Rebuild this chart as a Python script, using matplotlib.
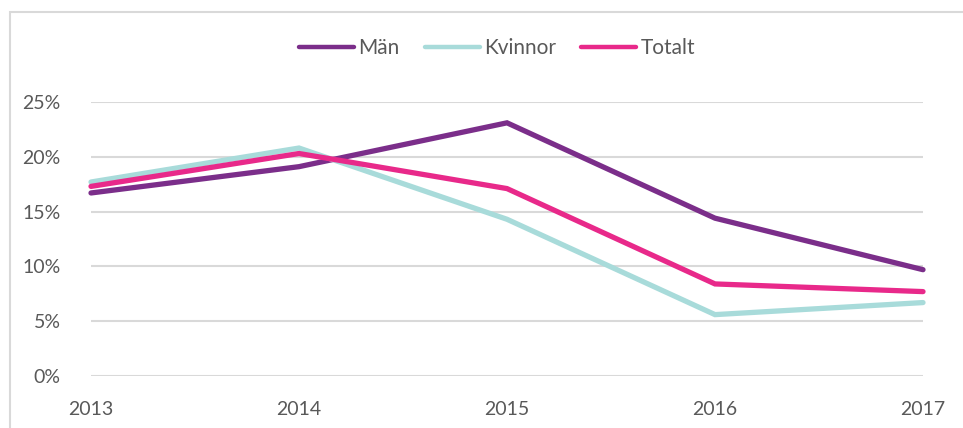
import numpy as np
import matplotlib.pyplot as plt
from matplotlib.patches import Rectangle
from matplotlib.ticker import PercentFormatter

plt.rcParams['font.family'] = ['Lato', 'DejaVu Sans']

years = [2013, 2014, 2015, 2016, 2017]
man = [0.167, 0.191, 0.231, 0.144, 0.097]
kvinnor = [0.177, 0.208, 0.143, 0.056, 0.067]
totalt = [0.173, 0.203, 0.171, 0.084, 0.077]
labels = ['Män', 'Kvinnor', 'Totalt']
colors = ['#7B2E8A', '#A8DBDA', '#E8298A']

fig = plt.figure(figsize=(9.63, 4.28), dpi=100)
ax = fig.add_axes([91/963, 1-376/428, (923-91)/963, (376-102)/428])

# outer chart frame (cut off at right and bottom)
fig.patches.append(Rectangle((10/963, -0.1), 1.2, 1.1 - 12/428, transform=fig.transFigure,
                             fill=False, edgecolor='#D9D9D9', lw=1.5))

for vals, lab, c in zip([man, kvinnor, totalt], labels, colors):
    ax.plot(years, vals, color=c, lw=3.8, label=lab, solid_capstyle='round',
            solid_joinstyle='miter', clip_on=False, zorder=3)

ax.set_xlim(2013, 2017)
ax.set_ylim(0, 0.25)
ax.set_xticks(years)
ax.set_yticks(np.arange(0, 0.26, 0.05))
ax.yaxis.set_major_formatter(PercentFormatter(1.0, decimals=0))
ax.grid(axis='y', color='#D9D9D9', lw=1.5)
ax.set_axisbelow(True)
for s in ax.spines.values():
    s.set_visible(False)
ax.tick_params(length=0, labelsize=14, colors='#595959')
ax.tick_params(axis='x', pad=18)
ax.tick_params(axis='y', pad=22)

leg = fig.legend(loc='center', bbox_to_anchor=(497/963, 1-48/428), ncol=3, frameon=False,
                 fontsize=15, handlelength=2.65, handletextpad=0.2, columnspacing=1.2)
for t in leg.get_texts():
    t.set_color('#595959')
for h in leg.get_lines():
    h.set_linewidth(3.2)
    h.set_solid_capstyle('round')

fig.savefig('out.png', dpi=100)
